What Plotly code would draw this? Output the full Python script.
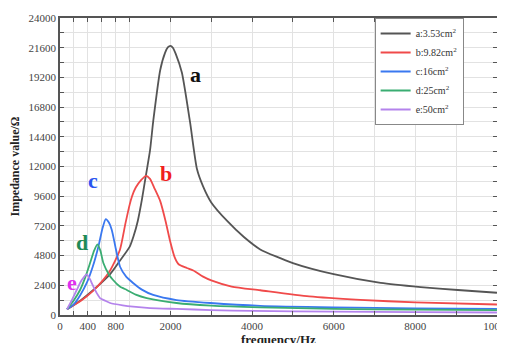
import plotly.graph_objects as go

# ---------------- data ----------------
freq_a = [100, 300, 475, 720, 850, 1000, 1100, 1200, 1300, 1400, 1500, 1580, 1750, 1870, 1940, 2000,
          2060, 2130, 2280, 2480, 2650, 2800, 3000, 3390, 3800, 4200, 5000, 6000, 7150, 8130, 9040, 10000]
imp_a = [460, 1200, 2000, 3300, 4300, 5500, 6400, 7600, 9300, 11300, 13300, 15700, 19800, 21200, 21650, 21750,
         21600, 21100, 19600, 15600, 11800, 10400, 9100, 7600, 6300, 5300, 4200, 3300, 2600, 2260, 2020, 1800]

freq_b = [100, 300, 475, 600, 720, 860, 940, 1000, 1060, 1150, 1280, 1400, 1500, 1600, 1750, 1880,
          1990, 2100, 2200, 2400, 2560, 2800, 3000, 3500, 4200, 5400, 6650, 8000, 10000]
imp_b = [460, 1150, 1950, 2700, 3600, 5250, 7400, 8900, 9600, 10300, 10900, 11250, 11000, 10300, 9200, 7600,
         6000, 4700, 4100, 3800, 3600, 3100, 2800, 2300, 2000, 1500, 1220, 1020, 850]

freq_c = [100, 190, 290, 384, 470, 551, 610, 657, 700, 744, 800, 863, 950, 1085, 1300, 1577,
          2150, 2980, 4200, 6000, 8000, 10000]
imp_c = [460, 810, 1600, 2590, 3900, 5520, 7000, 7750, 7500, 6870, 5400, 3900, 3100, 2590, 2050, 1620,
         1210, 970, 740, 620, 540, 500]

freq_d = [100, 200, 288, 360, 432, 490, 537, 580, 623, 700, 763, 860, 960, 1150, 1420, 2150,
          3000, 4200, 6000, 8000, 10000]
imp_d = [460, 1200, 2020, 3000, 4200, 5200, 5710, 5200, 4200, 3300, 2830, 2300, 2020, 1650, 1370, 970,
         760, 620, 500, 430, 390]

freq_e = [100, 170, 240, 310, 384, 430, 480, 530, 575, 650, 720, 900, 1085, 1500, 2150, 3000,
          4000, 6000, 8000, 10000]
imp_e = [460, 1200, 2020, 2800, 3290, 2900, 2290, 1750, 1370, 1150, 970, 780, 670, 560, 490, 400,
         330, 270, 230, 200]

series_names = ["a:3.53cm<sup>2</sup>", "b:9.82cm<sup>2</sup>", "c:16cm<sup>2</sup>",
                "d:25cm<sup>2</sup>", "e:50cm<sup>2</sup>"]
curve_labels = ["a", "b", "c", "d", "e"]
label_freq = [2607, 1896, 475, 317, 173]
label_imp = [19400, 11470, 10830, 5820, 2590]

x_title = "frequency/Hz"
y_title = "Impedance value/Ω"
x_tick_freqs = [0, 200, 400, 600, 800, 1000, 2000, 3000, 4000, 5000, 6000, 7000, 8000, 9000, 10000]
x_tick_text = ["0", "", "400", "", "800", "", "2000", "", "4000", "", "6000", "", "8000", "", "10000"]
y_tick_vals = list(range(0, 24001, 1200))
y_tick_text = [str(v) if v % 2400 == 0 else "" for v in y_tick_vals]

# ---------------- styles ----------------
line_colors = ["#555555", "#f04a4a", "#3a78f0", "#3aad72", "#b483ec"]
label_colors = ["#111111", "#f02020", "#2a55f0", "#1f8a55", "#e030ee"]
SERIF = "Liberation Serif"

# The original axis stretches 0-1000 Hz; 1000-10000 Hz is linear.
STRETCH = 69.5 / 40.75


def xpos(f):
    return f * STRETCH if f <= 1000 else 1000 * STRETCH + (f - 1000)


fig = go.Figure()
all_f = [freq_a, freq_b, freq_c, freq_d, freq_e]
all_v = [imp_a, imp_b, imp_c, imp_d, imp_e]
for name, fs, vs, col in zip(series_names, all_f, all_v, line_colors):
    fig.add_trace(go.Scatter(
        x=[xpos(f) for f in fs], y=vs, mode="lines", name=name,
        line=dict(color=col, width=1.8, shape="spline", smoothing=0.6),
    ))

for lab, f, v, col in zip(curve_labels, label_freq, label_imp, label_colors):
    fig.add_annotation(x=xpos(f), y=v, text=f"<b>{lab}</b>", showarrow=False,
                       font=dict(family=SERIF, size=22, color=col))

# x-axis title, placed low like in the reference (partly cut by the page edge)
fig.add_annotation(x=0.5, y=0, xref="paper", yref="paper", xanchor="center", yanchor="top",
                   yshift=-15, text=f"<b>{x_title}</b>", showarrow=False,
                   font=dict(family=SERIF, size=13, color="#222222"))

axis_common = dict(
    showline=True, linecolor="#555555", linewidth=1.5, mirror="ticks",
    ticks="inside", ticklen=4, tickcolor="#555555",
    showgrid=True, gridcolor="#e2e2e2", gridwidth=1, zeroline=False,
    tickfont=dict(family=SERIF, size=11, color="#444444"),
    automargin=False,
)

fig.update_xaxes(
    range=[0, xpos(10000) + 1], tickmode="array",
    tickvals=[xpos(f) for f in x_tick_freqs], ticktext=x_tick_text,
    ticklabeloverflow="allow",
    **axis_common,
)
fig.update_yaxes(
    range=[0, 24000], tickmode="array", tickvals=y_tick_vals, ticktext=y_tick_text,
    title=dict(text=f"<b>{y_title}</b>", font=dict(family=SERIF, size=12, color="#222222")),
    **axis_common,
)

fig.add_shape(type="line", xref="paper", yref="paper", x0=-0.14, x1=1.02, y0=1.046, y1=1.046,
              line=dict(color="#3db8a3", width=2))

# the page adds an 8 px body margin, so the figure is 8 px smaller and shifted
fig.update_layout(
    width=497, height=335,
    margin=dict(l=52, r=8, t=10, b=28),
    paper_bgcolor="white", plot_bgcolor="white",
    font=dict(family=SERIF, size=11, color="#333333"),
    showlegend=True,
    legend=dict(x=0.72, y=1.0, xanchor="left", yanchor="top",
                bgcolor="white", bordercolor="#888888", borderwidth=1,
                font=dict(family=SERIF, size=10, color="#333333"),
                itemwidth=30, tracegroupgap=0),
)

fig.write_html("out.html")
